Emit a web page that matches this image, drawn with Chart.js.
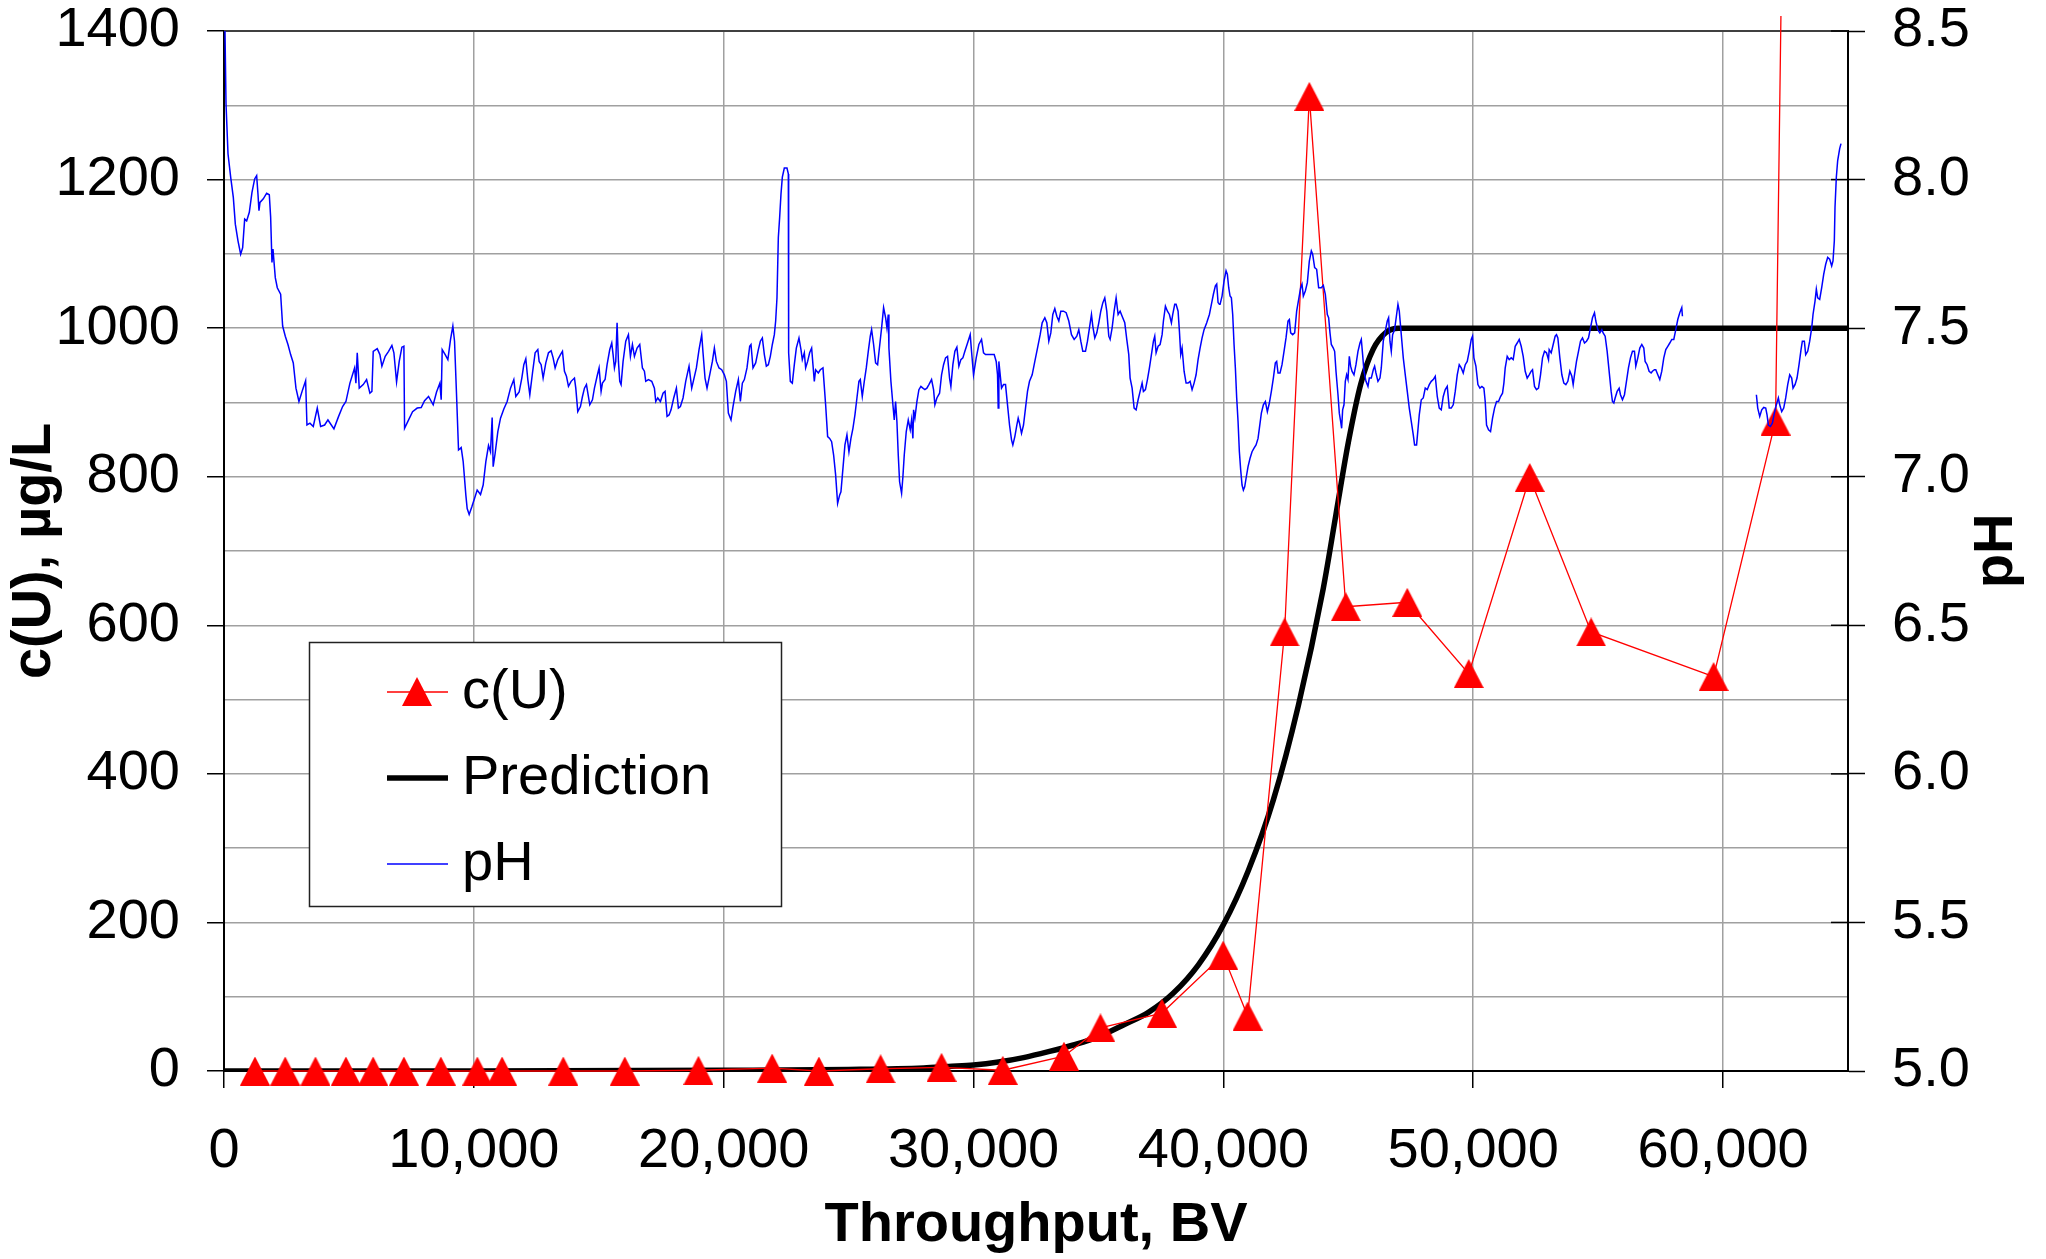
<!DOCTYPE html>
<html>
<head>
<meta charset="utf-8">
<script src="https://cdn.jsdelivr.net/npm/chart.js@4.4.1/dist/chart.umd.min.js"></script>
<style>
  html, body { margin: 0; padding: 0; background: #fff; }
</style>
</head>
<body>
<canvas id="chart" width="2046" height="1259"></canvas>
<script>
// measured uranium in the effluent (BV, ug/L); last one runs off the top of the plot
const cuBV  = [1240, 2450, 3660, 4880, 5970, 7200, 8680, 10140, 11130, 13580, 16040, 18990,
               21940, 23810, 26280, 28720, 31170, 33620, 35080, 37540, 39990, 40970, 42450,
               43440, 44900, 47360, 49820, 52260, 54720, 59620, 62100, 62900];
const cuVal = [0, 0, 0, 0, 0, 0, 0, 0, 0, 0, 0, 1,
               4, 0, 3, 5, 1, 20, 58, 78, 156, 74, 591,
               1312, 625, 631, 535, 799, 591, 531, 875, 2900];

// breakthrough prediction
const predBV  = [0, 10000, 20000, 25000, 28000, 29000, 30000, 31000, 32000, 33000, 34000, 35000,
                 36000, 37000, 38000, 39000, 40000, 41000, 42000, 43000, 44000, 44500, 45000,
                 45500, 46000, 46500, 47000, 48000, 65000];
const predVal = [0, 0, 1, 2, 4, 6, 8, 12, 18, 26, 35, 46,
                 62, 79, 105, 143, 197, 270, 365, 492, 650, 748, 846,
                 925, 972, 994, 1000, 1000, 1000];

// pH log, null = logger gap
const phBV = [
  40,80,160,267,373,453,560,667,747,827,
  907,1013,1120,1227,1307,1360,1400,1440,1573,1707,
  1813,1867,1920,1960,2053,2133,2267,2347,2453,2560,
  2667,2773,2880,3000,3147,3267,3320,3440,3573,3733,
  3867,4027,4160,4400,4587,4747,4880,5040,5227,5280,
  5333,5413,5573,5707,5840,5920,5973,6133,6240,6320,
  6453,6587,6720,6800,6907,7013,7120,7200,7227,7360,
  7547,7733,7893,8027,8187,8373,8507,8640,8693,8733,
  8853,8960,9067,9160,9227,9307,9387,9493,9573,9680,
  9733,9813,9920,10027,10133,10267,10373,10480,10587,10667,
  10733,10773,10853,10960,11067,11200,11333,11467,11600,11680,
  11813,11920,12000,12080,12160,12240,12347,12453,12560,12613,
  12693,12773,12880,12987,13093,13173,13253,13360,
  13467,13547,13627,13707,13787,13893,14027,14080,14160,14267,
  14347,14427,14507,14573,14640,14747,14827,14933,15013,15093,
  15147,15253,15333,15440,15520,15573,15627,15680,15733,15787,
  15840,15893,15973,16080,16187,16267,16347,16427,16533,16640,
  16747,16827,16880,16987,17120,17227,17280,17360,17467,17573,
  17653,17733,17813,17893,18000,18107,18187,18267,18373,18480,
  18613,18720,18800,18907,19013,19120,19173,19253,19333,19440,
  19547,19627,19707,19813,19920,20027,20107,20187,20293,20373,
  20480,20587,20667,20747,20827,20933,21040,21093,21173,21280,
  21387,21467,21547,21627,21707,21787,21867,21947,22027,22080,
  22133,22187,22240,22293,22347,22427,22533,22587,22600,22667,
  22747,22827,22907,23013,23093,23147,23227,23280,23360,23440,
  23520,23573,23627,23680,23787,23867,23973,24027,24080,24160,
  24240,24320,24400,24480,24560,24640,24693,24773,24853,24933,
  25013,25093,25173,25253,25333,25413,25467,25547,25627,25707,
  25787,25867,25920,26000,26080,26160,26240,26320,26400,26480,
  26533,26587,26613,
  26693,26773,26827,26880,26933,26987,27040,27120,27173,27227,
  27307,27387,27467,27520,27573,27600,27653,27733,27813,27893,
  27973,28053,28133,28213,28320,28400,28453,28533,28640,28720,
  28800,28880,28960,29040,29093,29173,29253,29333,29413,29493,
  29573,29653,29760,29867,29920,30000,30107,30213,30320,30400,
  30480,30693,30827,30907,30960,30987,31013,31067,31120,31200,
  31280,31360,31440,31520,31573,31653,31733,31787,31840,31920,
  32000,32080,32160,32240,32347,32453,32560,32667,32747,32853,
  32933,33013,33093,33173,33253,33333,33413,33493,33600,33707,
  33813,33920,34027,34133,34213,34293,34373,34480,34560,34640,
  34720,34773,34853,34933,35013,35093,35173,35253,35333,35413,
  35467,35547,35627,35707,35787,35867,35947,36053,36133,36213,
  36267,36347,36427,36507,36587,36667,36747,36800,36880,36960,
  37040,37120,37200,37253,37307,37387,37467,37547,37600,37680,
  37760,37840,37920,37973,38053,38107,38187,38240,38293,38347,
  38427,38507,38587,38667,38747,38827,38907,38987,39067,39147,
  39227,39333,39440,39520,39600,39680,39733,39787,39840,
  39867,39947,40027,40107,40160,40213,40267,40320,40373,40427,
  40480,40533,40587,40640,40693,40747,40800,40853,40907,40987,
  41067,41147,41227,41307,41387,41440,41520,41600,41680,41760,
  41840,41920,42000,42080,42133,42187,42267,42347,42427,42507,
  42587,42640,42693,42773,42853,42933,43013,43093,43147,43200,
  43280,43360,43440,43520,43573,43653,43733,43813,43920,44000,
  44080,44160,44213,44267,44320,44400,44453,44507,44587,44640,
  44693,44733,44773,44827,44880,44933,44987,45040,45093,45147,
  45227,45307,45387,45467,45520,45573,45627,45707,45787,45840,
  45920,46000,46053,46107,46187,46267,46320,46400,46480,46560,
  46613,46667,46720,46773,46853,46933,46987,47040,47120,47200,
  47280,47360,47440,47520,47600,47653,47733,47787,47840,47920,
  48000,48080,48160,48240,48320,48400,48480,48560,48640,48720,
  48800,48880,48960,49040,49120,49200,49280,49360,49440,49520,
  49600,49680,49760,49840,49920,49973,50027,50107,50187,50267,
  50347,50427,50480,50533,50613,50693,50773,50853,50933,51013,
  51093,51173,51227,51280,51360,51440,51520,51600,51680,51760,
  51840,51920,52000,52080,52160,52240,52320,52373,52453,52533,
  52613,52693,52773,52853,52933,53013,
  53040,53120,53200,53280,53333,53387,53467,53547,53627,53707,
  53787,53867,53947,54000,54053,54133,54213,54293,54373,54453,
  54533,54613,54693,54773,54853,54907,54987,55067,55147,55200,
  55280,55360,55413,55467,55520,55573,55627,55680,55760,55840,
  55893,55973,56053,56133,56213,56293,56373,56453,56507,56587,
  56667,56747,56827,56880,56960,57040,57120,57173,57253,57307,
  57387,57467,57547,57627,57707,57787,57867,57947,58027,58107,
  58187,58267,58347,58373,
  59800,
  61333,61387,61467,61547,61627,61707,61760,61813,61893,61973,
  62053,62133,62213,62267,62347,62427,62507,62587,62667,62747,
  62800,62880,62960,63040,63120,63173,63253,63307,63387,63467,
  63547,63600,63680,63733,63787,63867,63947,64027,64107,64187,
  64267,64347,64400,64453,64480,64533,64587,64667,64720
];
const phVal = [
  8.500,8.256,8.087,8.008,7.940,7.850,7.794,7.749,7.771,7.867,
  7.861,7.890,7.957,8.002,8.013,7.951,7.895,7.923,7.935,7.954,
  7.949,7.873,7.721,7.766,7.670,7.636,7.614,7.507,7.473,7.445,
  7.411,7.383,7.298,7.253,7.293,7.323,7.174,7.180,7.169,7.231,
  7.169,7.174,7.191,7.161,7.203,7.236,7.253,7.315,7.366,7.315,
  7.417,7.298,7.310,7.327,7.281,7.287,7.422,7.431,7.411,7.372,
  7.405,7.422,7.442,7.417,7.319,7.388,7.436,7.439,7.163,7.186,
  7.219,7.231,7.233,7.256,7.270,7.242,7.285,7.315,7.259,7.428,
  7.411,7.394,7.462,7.507,7.456,7.276,7.090,7.098,7.051,6.938,
  6.893,6.873,6.899,6.927,6.955,6.940,6.972,7.051,7.105,7.084,
  7.199,7.034,7.079,7.152,7.197,7.228,7.253,7.298,7.327,7.270,
  7.285,7.332,7.377,7.397,7.327,7.276,7.349,7.417,7.428,7.388,
  7.377,7.332,7.383,7.417,7.424,7.400,7.366,7.394,
  7.411,7.422,7.355,7.338,7.304,7.321,7.332,7.298,7.219,7.236,
  7.270,7.298,7.310,7.276,7.242,7.259,7.298,7.338,7.366,7.287,
  7.315,7.327,7.377,7.428,7.450,7.411,7.366,7.388,7.518,7.388,
  7.321,7.310,7.388,7.456,7.478,7.405,7.445,7.405,7.433,7.445,
  7.366,7.355,7.321,7.327,7.321,7.298,7.253,7.265,7.253,7.281,
  7.287,7.203,7.208,7.225,7.265,7.298,7.231,7.236,7.265,7.321,
  7.372,7.298,7.327,7.366,7.428,7.478,7.417,7.332,7.298,7.343,
  7.388,7.433,7.388,7.366,7.360,7.343,7.321,7.214,7.191,7.236,
  7.287,7.327,7.253,7.315,7.327,7.366,7.439,7.445,7.366,7.383,
  7.428,7.456,7.467,7.411,7.372,7.377,7.405,7.445,7.478,7.524,
  7.602,7.805,7.873,7.951,8.008,8.039,8.039,8.019,7.417,7.321,
  7.315,7.377,7.433,7.467,7.428,7.394,7.417,7.366,7.388,7.417,
  7.433,7.377,7.321,7.360,7.349,7.360,7.366,7.304,7.242,7.135,
  7.129,7.118,7.073,7.006,6.910,6.938,6.949,7.028,7.107,7.141,
  7.084,7.129,7.163,7.208,7.265,7.321,7.327,7.270,7.321,7.366,
  7.422,7.473,7.495,7.445,7.383,7.377,7.439,7.501,7.569,7.535,
  7.501,7.546,7.433,
  7.321,7.242,7.191,7.253,7.186,7.073,6.983,6.944,7.000,7.073,
  7.152,7.191,7.158,7.191,7.129,7.225,7.197,7.253,7.293,7.304,
  7.298,7.293,7.298,7.310,7.327,7.293,7.242,7.265,7.281,7.343,
  7.377,7.400,7.405,7.332,7.304,7.377,7.422,7.436,7.372,7.394,
  7.400,7.422,7.450,7.478,7.422,7.343,7.400,7.445,7.462,7.417,
  7.411,7.411,7.411,7.388,7.343,7.231,7.388,7.343,7.298,7.310,
  7.310,7.242,7.174,7.124,7.107,7.135,7.174,7.197,7.180,7.146,
  7.174,7.231,7.287,7.321,7.343,7.388,7.433,7.478,7.518,7.535,
  7.518,7.456,7.484,7.546,7.566,7.540,7.524,7.557,7.557,7.552,
  7.524,7.478,7.462,7.473,7.495,7.456,7.422,7.422,7.456,7.501,
  7.546,7.507,7.467,7.484,7.518,7.557,7.585,7.602,7.557,7.473,
  7.462,7.501,7.557,7.602,7.546,7.557,7.540,7.518,7.462,7.411,
  7.332,7.298,7.231,7.225,7.259,7.287,7.315,7.287,7.293,7.327,
  7.366,7.411,7.456,7.473,7.417,7.439,7.445,7.478,7.524,7.574,
  7.557,7.546,7.518,7.546,7.580,7.580,7.557,7.490,7.411,7.433,
  7.355,7.315,7.315,7.321,7.293,7.315,7.343,7.394,7.433,7.467,
  7.495,7.518,7.546,7.580,7.614,7.642,7.648,7.586,7.580,
  7.580,7.608,7.659,7.693,7.681,7.636,7.608,7.602,7.546,7.445,
  7.366,7.265,7.186,7.084,7.022,6.972,6.955,6.966,6.994,7.034,
  7.062,7.084,7.096,7.107,7.129,7.163,7.214,7.242,7.253,7.219,
  7.248,7.287,7.332,7.383,7.388,7.349,7.349,7.377,7.422,7.467,
  7.524,7.529,7.484,7.478,7.484,7.557,7.597,7.636,7.648,7.608,
  7.625,7.653,7.726,7.760,7.749,7.704,7.698,7.636,7.636,7.644,
  7.614,7.546,7.535,7.484,7.445,7.433,7.422,7.355,7.276,7.214,
  7.186,7.163,7.225,7.242,7.321,7.343,7.327,7.405,7.372,7.355,
  7.343,7.377,7.422,7.450,7.462,7.411,7.355,7.321,7.304,7.332,
  7.332,7.360,7.372,7.349,7.321,7.332,7.366,7.456,7.490,7.524,
  7.535,7.456,7.422,7.478,7.495,7.546,7.580,7.557,7.478,7.400,
  7.343,7.287,7.231,7.186,7.141,7.107,7.107,7.158,7.208,7.259,
  7.265,7.298,7.293,7.310,7.321,7.327,7.338,7.270,7.231,7.225,
  7.270,7.293,7.304,7.231,7.231,7.242,7.287,7.343,7.377,7.366,
  7.349,7.377,7.388,7.422,7.462,7.473,7.400,7.372,7.310,7.298,
  7.304,7.298,7.253,7.174,7.158,7.152,7.197,7.231,7.253,7.253,
  7.270,7.281,7.315,7.366,7.405,7.394,7.400,7.394,7.439,7.450,
  7.462,7.439,7.405,7.355,7.332,7.343,7.355,7.360,7.304,7.293,
  7.298,7.343,7.400,7.422,7.417,7.394,
  7.428,7.417,7.445,7.473,7.478,7.467,7.400,7.343,7.315,7.310,
  7.321,7.355,7.338,7.310,7.343,7.388,7.422,7.456,7.467,7.450,
  7.456,7.467,7.501,7.535,7.552,7.524,7.495,7.484,7.495,7.484,
  7.473,7.422,7.377,7.332,7.287,7.253,7.248,7.265,7.287,7.298,
  7.276,7.259,7.276,7.321,7.366,7.400,7.422,7.422,7.372,7.400,
  7.433,7.445,7.433,7.388,7.377,7.355,7.349,7.355,7.360,7.360,
  7.343,7.327,7.355,7.400,7.428,7.439,7.450,7.462,7.462,7.495,
  7.529,7.552,7.569,7.540,
  null,
  7.276,7.231,7.203,7.225,7.233,7.231,7.208,7.174,7.169,7.180,
  7.214,7.242,7.265,7.242,7.219,7.231,7.265,7.310,7.343,7.332,
  7.298,7.310,7.332,7.377,7.428,7.456,7.456,7.411,7.422,7.456,
  7.501,7.546,7.591,7.631,7.602,7.597,7.636,7.681,7.715,7.738,
  7.732,7.709,7.726,7.794,7.907,8.008,8.064,8.104,8.121
];

const xTicks = [0, 10000, 20000, 30000, 40000, 50000, 60000];
const legendOrder = ['c(U)', 'Prediction', 'pH'];

const FONT = "'Liberation Sans', Arial, sans-serif";

function pairs(xs, ys) {
  return xs.map((x, i) => ({ x: x, y: ys[i] }));
}

// Excel-style filled triangle marker
function triangleMarker() {
  const c = document.createElement('canvas');
  c.width = 30;
  c.height = 29;
  const g = c.getContext('2d');
  g.fillStyle = '#ff0000';
  g.beginPath();
  g.moveTo(15, 0);
  g.lineTo(30, 29);
  g.lineTo(0, 29);
  g.closePath();
  g.fill();
  return c;
}
const tri = triangleMarker();

// top frame line, inner half of the pH tick marks, and the pH title
const frame = {
  id: 'frame',
  beforeDatasetsDraw(chart) {
    const ctx = chart.ctx;
    const a = chart.chartArea;
    const r = chart.scales.y2;
    ctx.save();
    ctx.strokeStyle = '#404040';
    ctx.lineWidth = 2;
    ctx.beginPath();
    ctx.moveTo(a.left, a.top);
    ctx.lineTo(a.right, a.top);
    ctx.stroke();
    ctx.strokeStyle = '#000';
    ctx.lineWidth = 1.5;
    r.ticks.forEach(t => {
      const y = r.getPixelForValue(t.value);
      ctx.beginPath();
      ctx.moveTo(a.right - 17, y);
      ctx.lineTo(a.right, y);
      ctx.stroke();
    });
    // right title reads bottom-to-top, same as the left one
    ctx.translate(1997, (a.top + a.bottom) / 2);
    ctx.rotate(-Math.PI / 2);
    ctx.fillStyle = '#000';
    ctx.font = 'bold 56px ' + FONT;
    ctx.textAlign = 'center';
    ctx.textBaseline = 'middle';
    ctx.fillText('pH', 0, 0);
    ctx.restore();
  }
};

// boxed legend inside the plot, like the original
const legendBox = {
  id: 'legendBox',
  afterDraw(chart) {
    const ctx = chart.ctx;
    const x0 = 309, y0 = 642, w = 472, h = 264;
    ctx.save();
    ctx.fillStyle = '#fff';
    ctx.fillRect(x0, y0, w, h);
    ctx.strokeStyle = '#222';
    ctx.lineWidth = 1.5;
    ctx.strokeRect(x0 + 0.5, y0 + 0.5, w, h);
    ctx.font = '56px ' + FONT;
    ctx.textBaseline = 'middle';
    ctx.textAlign = 'left';
    legendOrder.forEach((name, i) => {
      const ds = chart.data.datasets.find(d => d.label === name);
      const y = y0 + 50 + i * 86;
      ctx.strokeStyle = ds.borderColor;
      ctx.lineWidth = ds.borderWidth;
      ctx.beginPath();
      ctx.moveTo(x0 + 78, y);
      ctx.lineTo(x0 + 139, y);
      ctx.stroke();
      if (ds.pointStyle === tri) {
        ctx.drawImage(tri, x0 + 108 - 15, y - 15);
      }
      ctx.fillStyle = '#000';
      ctx.fillText(name, x0 + 153, y + 1);
    });
    ctx.restore();
  }
};

const tickFont = { size: 56, family: FONT };
const titleFont = { size: 56, weight: 'bold', family: FONT };

new Chart(document.getElementById('chart'), {
  type: 'line',
  data: {
    datasets: [
      {
        label: 'pH',
        data: pairs(phBV, phVal),
        yAxisID: 'y2',
        borderColor: '#0000ff',
        borderWidth: 1.5,
        pointRadius: 0,
        spanGaps: false,
        order: 0
      },
      {
        label: 'c(U)',
        data: pairs(cuBV, cuVal),
        yAxisID: 'y',
        borderColor: '#ff0000',
        borderWidth: 1.3,
        pointStyle: tri,
        pointRadius: 15,
        clip: { left: 20, top: 15, right: 0, bottom: 20 },
        order: 1
      },
      {
        label: 'Prediction',
        data: pairs(predBV, predVal),
        yAxisID: 'y',
        borderColor: '#000',
        borderWidth: 5.5,
        pointRadius: 0,
        cubicInterpolationMode: 'monotone',
        order: 2
      }
    ]
  },
  options: {
    responsive: false,
    animation: false,
    devicePixelRatio: 1,
    layout: { padding: { top: 31, left: 0, right: 0, bottom: 0 }, autoPadding: false },
    plugins: { legend: { display: false }, tooltip: { enabled: false } },
    scales: {
      x: {
        type: 'linear',
        min: 0,
        max: 65000,
        afterBuildTicks: s => { s.ticks = xTicks.map(v => ({ value: v })); },
        afterFit: s => { s.height = 188; s.paddingLeft = 0; s.paddingRight = 0; },
        ticks: {
          autoSkip: false,
          maxRotation: 0,
          color: '#000',
          font: tickFont,
          padding: 30,
          callback: v => v.toLocaleString('en-US')
        },
        grid: { color: '#a0a0a0', lineWidth: 1.5, tickLength: 17, tickColor: '#000', tickWidth: 1.5 },
        border: { color: '#000', width: 2 },
        title: { display: true, text: 'Throughput, BV', color: '#000', font: titleFont, padding: 0 }
      },
      y: {
        position: 'left',
        min: 0,
        max: 1400,
        afterFit: s => { s.width = 224; s.paddingTop = 0; s.paddingBottom = 0; },
        ticks: {
          stepSize: 100,
          autoSkip: false,
          color: '#000',
          font: tickFont,
          padding: 27,
          callback: v => (v % 200 === 0 ? String(v) : '')
        },
        grid: {
          color: '#a0a0a0',
          lineWidth: 1.5,
          tickLength: 17,
          tickWidth: 1.5,
          tickColor: c => (c.tick && c.tick.value % 200 === 0 ? '#000' : 'rgba(0,0,0,0)')
        },
        border: { color: '#000', width: 2 },
        title: { display: true, text: 'c(U), µg/L', color: '#000', font: titleFont, padding: 1 }
      },
      y2: {
        position: 'right',
        min: 5,
        max: 8.5,
        afterFit: s => { s.width = 198; s.paddingTop = 0; s.paddingBottom = 0; },
        ticks: {
          stepSize: 0.5,
          color: '#000',
          font: tickFont,
          padding: 27,
          callback: v => v.toFixed(1)
        },
        grid: { drawOnChartArea: false, tickLength: 17, tickColor: '#000', tickWidth: 1.5 },
        border: { color: '#000', width: 2 },
        title: { display: false }
      }
    }
  },
  plugins: [frame, legendBox]
});
</script>
</body>
</html>
